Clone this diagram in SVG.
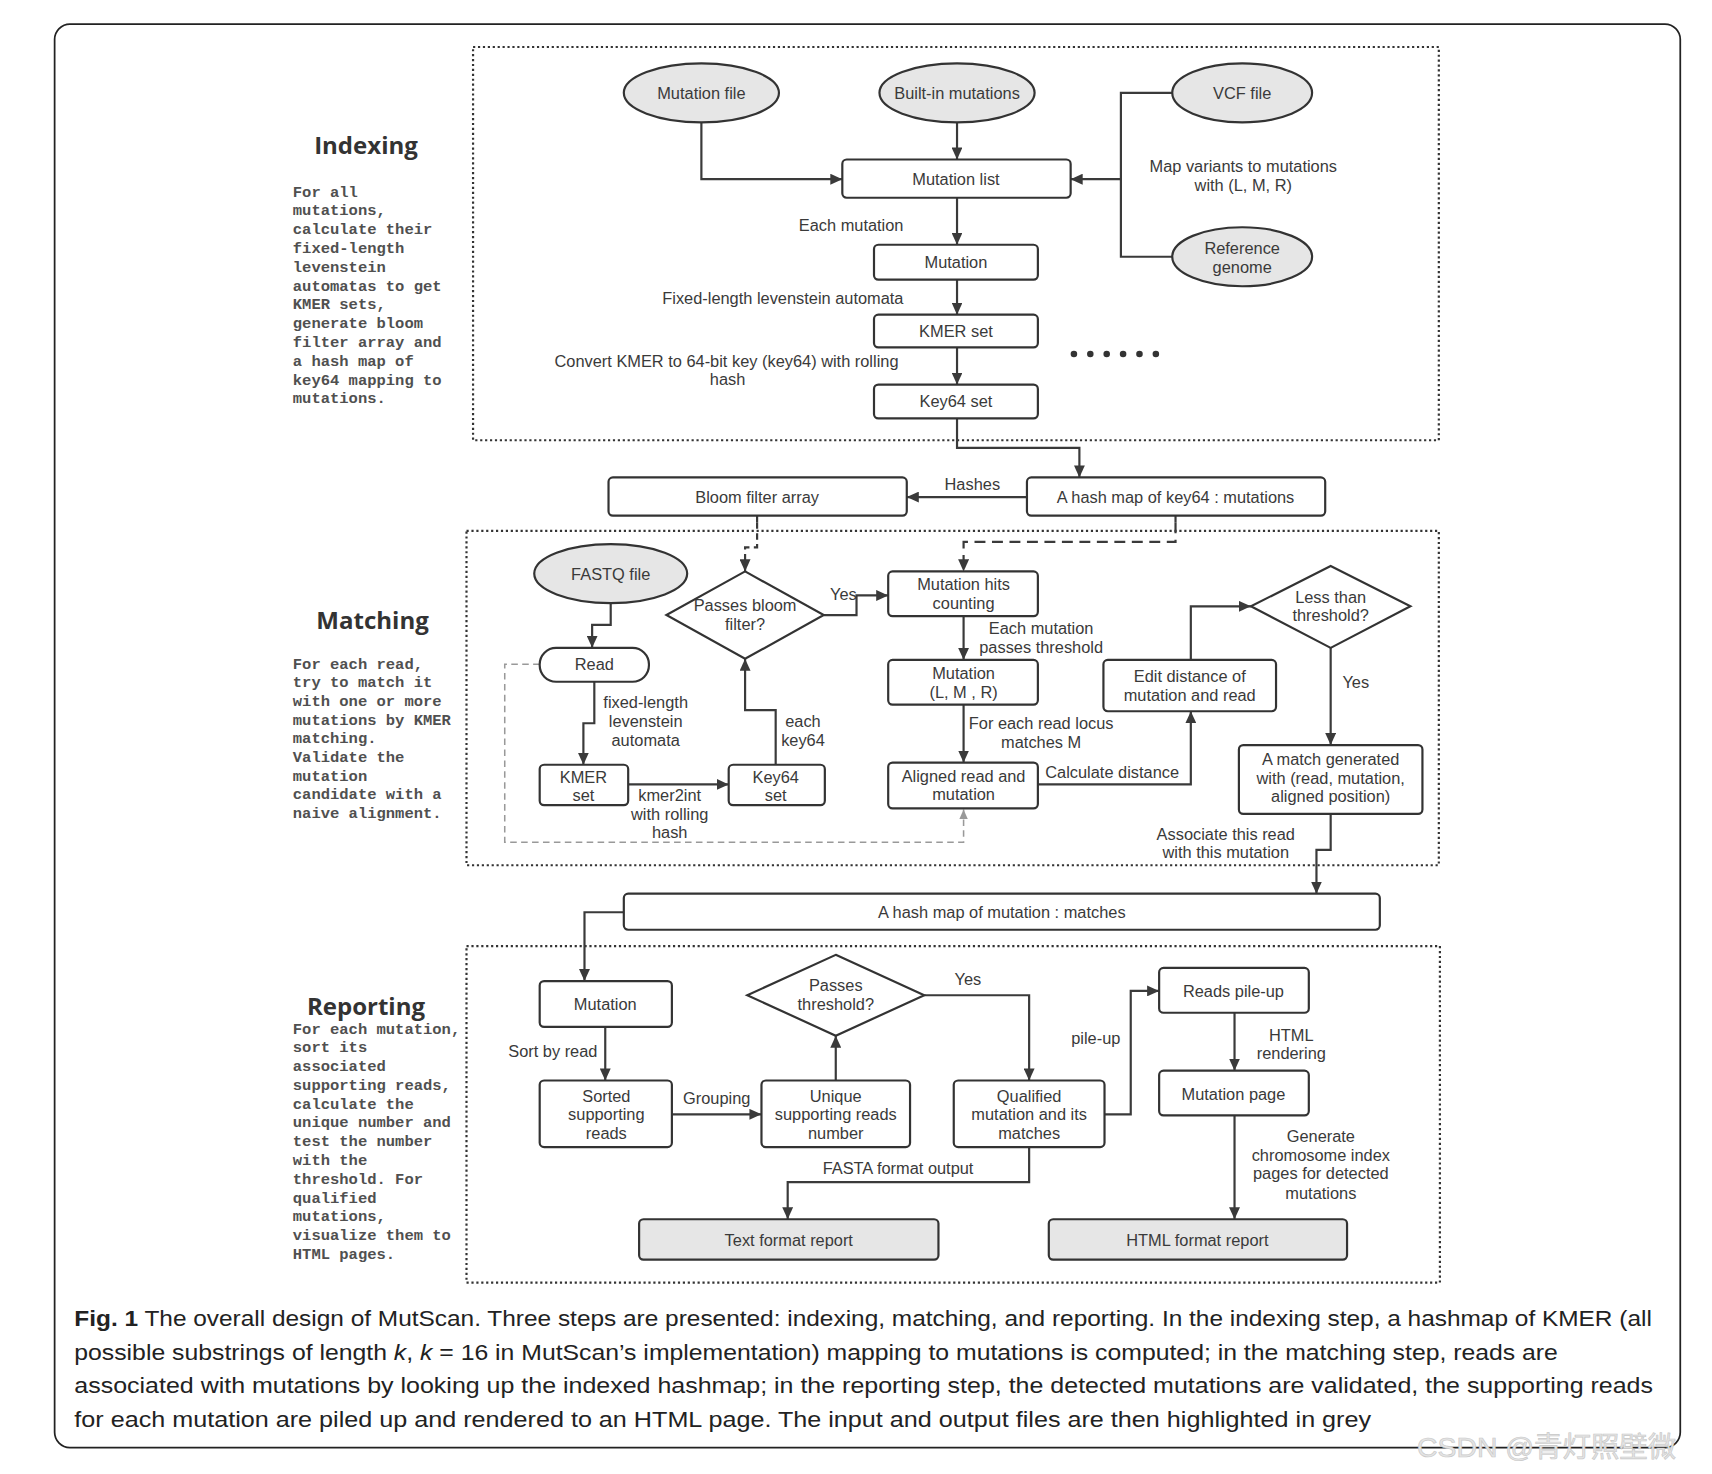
<svg xmlns="http://www.w3.org/2000/svg" width="1712" height="1474" viewBox="0 0 1712 1474">
<defs>
<style>
.t{font-family:"Liberation Sans",Arial,sans-serif;font-size:15px;fill:#3a3a3a;text-anchor:middle;dominant-baseline:central}
.l{font-family:"Liberation Sans",Arial,sans-serif;font-size:15px;fill:#3a3a3a;dominant-baseline:central}
.h{font-family:"Open Sans","Noto Sans",sans-serif;font-size:22px;font-weight:bold;fill:#333;text-anchor:middle;dominant-baseline:central}
.m{font-family:"Liberation Mono","Courier New",monospace;font-size:14.2px;font-weight:bold;fill:#505050}
.box{fill:#fff;stroke:#333;stroke-width:2}
.gbox{fill:#e6e6e6;stroke:#333;stroke-width:2}
.sec{fill:none;stroke:#333;stroke-width:2;stroke-dasharray:2 2.5}
.c{fill:none;stroke:#3a3a3a;stroke-width:2}
.cap{font-family:"Liberation Sans",Arial,sans-serif;font-size:21px;fill:#222}
</style>
<marker id="a" markerUnits="userSpaceOnUse" markerWidth="12" markerHeight="10" refX="11" refY="5" orient="auto">
<path d="M0,0 L11,5 L0,10 z" fill="#3a3a3a"/>
</marker>
<marker id="ag" markerUnits="userSpaceOnUse" markerWidth="10" markerHeight="8" refX="9" refY="4" orient="auto">
<path d="M0,0 L9,4 L0,8 z" fill="#999"/>
</marker>
</defs>
<rect width="1712" height="1474" fill="#fff"/>
<g transform="scale(1.0925)">
<rect x="50" y="22" width="1488" height="1303" rx="14" fill="none" stroke="#222" stroke-width="1.6"/>

<g id="sections">
<rect class="sec" x="433" y="43" width="884" height="360"/>
<rect class="sec" x="427" y="486" width="890" height="306"/>
<rect class="sec" x="427" y="866" width="891" height="308"/>
</g>

<g id="side-labels">
<text class="h" x="335" y="132">Indexing</text>
<text class="m" x="268" y="180">
<tspan x="268">For all</tspan>
<tspan x="268" dy="17.2">mutations,</tspan>
<tspan x="268" dy="17.2">calculate their</tspan>
<tspan x="268" dy="17.2">fixed-length</tspan>
<tspan x="268" dy="17.2">levenstein</tspan>
<tspan x="268" dy="17.2">automatas to get</tspan>
<tspan x="268" dy="17.2">KMER sets,</tspan>
<tspan x="268" dy="17.2">generate bloom</tspan>
<tspan x="268" dy="17.2">filter array and</tspan>
<tspan x="268" dy="17.2">a hash map of</tspan>
<tspan x="268" dy="17.2">key64 mapping to</tspan>
<tspan x="268" dy="17.2">mutations.</tspan>
</text>
<text class="h" x="341" y="567">Matching</text>
<text class="m" x="268" y="612">
<tspan x="268">For each read,</tspan>
<tspan x="268" dy="17.1">try to match it</tspan>
<tspan x="268" dy="17.1">with one or more</tspan>
<tspan x="268" dy="17.1">mutations by KMER</tspan>
<tspan x="268" dy="17.1">matching.</tspan>
<tspan x="268" dy="17.1">Validate the</tspan>
<tspan x="268" dy="17.1">mutation</tspan>
<tspan x="268" dy="17.1">candidate with a</tspan>
<tspan x="268" dy="17.1">naive alignment.</tspan>
</text>
<text class="h" x="335" y="920">Reporting</text>
<text class="m" x="268" y="946">
<tspan x="268">For each mutation,</tspan>
<tspan x="268" dy="17.2">sort its</tspan>
<tspan x="268" dy="17.2">associated</tspan>
<tspan x="268" dy="17.2">supporting reads,</tspan>
<tspan x="268" dy="17.2">calculate the</tspan>
<tspan x="268" dy="17.2">unique number and</tspan>
<tspan x="268" dy="17.2">test the number</tspan>
<tspan x="268" dy="17.2">with the</tspan>
<tspan x="268" dy="17.2">threshold. For</tspan>
<tspan x="268" dy="17.2">qualified</tspan>
<tspan x="268" dy="17.2">mutations,</tspan>
<tspan x="268" dy="17.2">visualize them to</tspan>
<tspan x="268" dy="17.2">HTML pages.</tspan>
</text>
</g>

<g id="connectors">
<path class="c" d="M642,112 V164 H771" marker-end="url(#a)"/>
<path class="c" d="M876,112 V146" marker-end="url(#a)"/>
<path class="c" d="M1073,85 H1026 V235 H1073"/>
<path class="c" d="M1026,164 H980" marker-end="url(#a)"/>
<path class="c" d="M876,181 V224" marker-end="url(#a)"/>
<path class="c" d="M876,256 V288" marker-end="url(#a)"/>
<path class="c" d="M876,318 V352" marker-end="url(#a)"/>
<path class="c" d="M876,383 V410 H988 V437" marker-end="url(#a)"/>
<path class="c" d="M940,455 H830" marker-end="url(#a)"/>
<path class="c" d="M693,472 V478"/>
<path class="c" d="M693,478 V501 H682 V523" stroke-dasharray="6 4" marker-end="url(#a)"/>
<path class="c" d="M1076,472 V478"/>
<path class="c" d="M1076,478 V496 H882 V523" stroke-dasharray="10 6" marker-end="url(#a)"/>
<path class="c" d="M754,563 H784 V545 H813" marker-end="url(#a)"/>
<path class="c" d="M559,552 V572 H542 V593" marker-end="url(#a)"/>
<path class="c" d="M544,624 V662 H534 V700" marker-end="url(#a)"/>
<path class="c" d="M575,718 H667" marker-end="url(#a)"/>
<path class="c" d="M710,700 V650 H682 V603" marker-end="url(#a)"/>
<path fill="none" stroke="#999" stroke-width="1.4" stroke-dasharray="6 4" d="M494,608 H462 V771 H882 V741" marker-end="url(#ag)"/>
<path class="c" d="M882,564 V604" marker-end="url(#a)"/>
<path class="c" d="M882,645 V698" marker-end="url(#a)"/>
<path class="c" d="M950,718 H1090 V651" marker-end="url(#a)"/>
<path class="c" d="M1090,604 V555 H1145" marker-end="url(#a)"/>
<path class="c" d="M1218,593 V682" marker-end="url(#a)"/>
<path class="c" d="M1218,745 V778 H1205 V818" marker-end="url(#a)"/>
<path class="c" d="M571,835 H535 V898" marker-end="url(#a)"/>
<path class="c" d="M554,940 V989" marker-end="url(#a)"/>
<path class="c" d="M615,1020 H697" marker-end="url(#a)"/>
<path class="c" d="M765,989 V948" marker-end="url(#a)"/>
<path class="c" d="M846,911 H942 V989" marker-end="url(#a)"/>
<path class="c" d="M1011,1020 H1035 V907 H1061" marker-end="url(#a)"/>
<path class="c" d="M1130,927 V980" marker-end="url(#a)"/>
<path class="c" d="M1130,1021 V1116" marker-end="url(#a)"/>
<path class="c" d="M942,1050 V1082 H721 V1116" marker-end="url(#a)"/>
</g>

<g id="edge-labels">
<text class="l" x="827" y="206" text-anchor="end">Each mutation</text>
<text class="l" x="827" y="273" text-anchor="end">Fixed-length levenstein automata</text>
<text class="t" x="665" y="330"><tspan x="665">Convert KMER to 64-bit key (key64) with rolling</tspan><tspan x="666" dy="17">hash</tspan></text>
<text class="t" x="1138" y="152"><tspan x="1138">Map variants to mutations</tspan><tspan x="1138" dy="17">with (L, M, R)</tspan></text>
<text class="t" x="890" y="443">Hashes</text>
<text class="t" x="772" y="544">Yes</text>
<text class="t" x="591" y="643"><tspan x="591">fixed-length</tspan><tspan x="591" dy="17">levenstein</tspan><tspan x="591" dy="17">automata</tspan></text>
<text class="t" x="613" y="728"><tspan x="613">kmer2int</tspan><tspan x="613" dy="17">with rolling</tspan><tspan x="613" dy="17">hash</tspan></text>
<text class="t" x="735" y="660"><tspan x="735">each</tspan><tspan x="735" dy="17">key64</tspan></text>
<text class="t" x="953" y="575"><tspan x="953">Each mutation</tspan><tspan x="953" dy="17">passes threshold</tspan></text>
<text class="t" x="953" y="662"><tspan x="953">For each read locus</tspan><tspan x="953" dy="17">matches M</tspan></text>
<text class="t" x="1018" y="707">Calculate distance</text>
<text class="t" x="1241" y="624">Yes</text>
<text class="t" x="1122" y="763"><tspan x="1122">Associate this read</tspan><tspan x="1122" dy="17">with this mutation</tspan></text>
<text class="t" x="506" y="962">Sort by read</text>
<text class="t" x="656" y="1005">Grouping</text>
<text class="t" x="886" y="896">Yes</text>
<text class="t" x="1003" y="950">pile-up</text>
<text class="t" x="1182" y="947"><tspan x="1182">HTML</tspan><tspan x="1182" dy="17">rendering</tspan></text>
<text class="t" x="1209" y="1040"><tspan x="1209">Generate</tspan><tspan x="1209" dy="17">chromosome index</tspan><tspan x="1209" dy="17">pages for detected</tspan><tspan x="1209" dy="18">mutations</tspan></text>
<text class="t" x="822" y="1069">FASTA format output</text>
</g>

<g id="dots" fill="#333">
<circle cx="983" cy="324" r="3"/><circle cx="998" cy="324" r="3"/><circle cx="1013" cy="324" r="3"/>
<circle cx="1028" cy="324" r="3"/><circle cx="1043" cy="324" r="3"/><circle cx="1058" cy="324" r="3"/>
</g>

<g id="mutation-file"><ellipse class="gbox" cx="642" cy="85" rx="71" ry="27"/><text class="t" x="642" y="85">Mutation file</text></g>
<g id="builtin-mutations"><ellipse class="gbox" cx="876" cy="85" rx="71" ry="27"/><text class="t" x="876" y="85">Built-in mutations</text></g>
<g id="vcf-file"><ellipse class="gbox" cx="1137" cy="85" rx="64" ry="27"/><text class="t" x="1137" y="85">VCF file</text></g>
<g id="reference-genome"><ellipse class="gbox" cx="1137" cy="235" rx="64" ry="27"/><text class="t" x="1137" y="227"><tspan x="1137">Reference</tspan><tspan x="1137" dy="17">genome</tspan></text></g>
<g id="mutation-list"><rect class="box" x="771" y="146" width="209" height="35" rx="4"/><text class="t" x="875" y="164">Mutation list</text></g>
<g id="mutation-idx"><rect class="box" x="800" y="224" width="150" height="32" rx="4"/><text class="t" x="875" y="240">Mutation</text></g>
<g id="kmer-set-idx"><rect class="box" x="800" y="288" width="150" height="30" rx="4"/><text class="t" x="875" y="303">KMER set</text></g>
<g id="key64-set-idx"><rect class="box" x="800" y="352" width="150" height="31" rx="4"/><text class="t" x="875" y="367">Key64 set</text></g>

<g id="bloom-filter"><rect class="box" x="557" y="437" width="273" height="35" rx="4"/><text class="t" x="693" y="455">Bloom filter array</text></g>
<g id="hashmap-key64"><rect class="box" x="940" y="437" width="273" height="35" rx="4"/><text class="t" x="1076" y="455">A hash map of key64 : mutations</text></g>

<g id="fastq-file"><ellipse class="gbox" cx="559" cy="525" rx="70" ry="27"/><text class="t" x="559" y="525">FASTQ file</text></g>
<g id="passes-bloom"><polygon class="box" points="682,523 754,563 682,603 610,563"/><text class="t" x="682" y="554"><tspan x="682">Passes bloom</tspan><tspan x="682" dy="17">filter?</tspan></text></g>
<g id="read"><rect class="box" x="494" y="593" width="100" height="31" rx="15"/><text class="t" x="544" y="608">Read</text></g>
<g id="kmer-set"><rect class="box" x="494" y="700" width="81" height="37" rx="4"/><text class="t" x="534" y="711"><tspan x="534">KMER</tspan><tspan x="534" dy="17">set</tspan></text></g>
<g id="key64-set"><rect class="box" x="667" y="700" width="88" height="37" rx="4"/><text class="t" x="710" y="711"><tspan x="710">Key64</tspan><tspan x="710" dy="17">set</tspan></text></g>
<g id="hits-counting"><rect class="box" x="813" y="523" width="137" height="41" rx="4"/><text class="t" x="882" y="535"><tspan x="882">Mutation hits</tspan><tspan x="882" dy="17">counting</tspan></text></g>
<g id="mutation-lmr"><rect class="box" x="813" y="604" width="137" height="41" rx="4"/><text class="t" x="882" y="616"><tspan x="882">Mutation</tspan><tspan x="882" dy="17">(L, M , R)</tspan></text></g>
<g id="aligned-read"><rect class="box" x="813" y="698" width="137" height="42" rx="4"/><text class="t" x="882" y="710"><tspan x="882">Aligned read and</tspan><tspan x="882" dy="17">mutation</tspan></text></g>
<g id="edit-distance"><rect class="box" x="1010" y="604" width="158" height="47" rx="4"/><text class="t" x="1089" y="619"><tspan x="1089">Edit distance of</tspan><tspan x="1089" dy="17">mutation and read</tspan></text></g>
<g id="less-threshold"><polygon class="box" points="1218,518 1291,555 1218,593 1145,555"/><text class="t" x="1218" y="546"><tspan x="1218">Less than</tspan><tspan x="1218" dy="17">threshold?</tspan></text></g>
<g id="match-generated"><rect class="box" x="1134" y="682" width="168" height="63" rx="4"/><text class="t" x="1218" y="695"><tspan x="1218">A match generated</tspan><tspan x="1218" dy="17">with (read, mutation,</tspan><tspan x="1218" dy="17">aligned position)</tspan></text></g>

<g id="hashmap-matches"><rect class="box" x="571" y="818" width="692" height="33" rx="4"/><text class="t" x="917" y="835">A hash map of mutation : matches</text></g>

<g id="mutation-rep"><rect class="box" x="494" y="898" width="121" height="42" rx="4"/><text class="t" x="554" y="919">Mutation</text></g>
<g id="sorted-reads"><rect class="box" x="494" y="989" width="121" height="61" rx="4"/><text class="t" x="555" y="1003"><tspan x="555">Sorted</tspan><tspan x="555" dy="17">supporting</tspan><tspan x="555" dy="17">reads</tspan></text></g>
<g id="unique-reads"><rect class="box" x="697" y="989" width="136" height="61" rx="4"/><text class="t" x="765" y="1003"><tspan x="765">Unique</tspan><tspan x="765" dy="17">supporting reads</tspan><tspan x="765" dy="17">number</tspan></text></g>
<g id="passes-threshold"><polygon class="box" points="765,874 846,911 765,948 684,911"/><text class="t" x="765" y="902"><tspan x="765">Passes</tspan><tspan x="765" dy="17">threshold?</tspan></text></g>
<g id="qualified"><rect class="box" x="873" y="989" width="138" height="61" rx="4"/><text class="t" x="942" y="1003"><tspan x="942">Qualified</tspan><tspan x="942" dy="17">mutation and its</tspan><tspan x="942" dy="17">matches</tspan></text></g>
<g id="reads-pileup"><rect class="box" x="1061" y="886" width="137" height="41" rx="4"/><text class="t" x="1129" y="907">Reads pile-up</text></g>
<g id="mutation-page"><rect class="box" x="1061" y="980" width="137" height="41" rx="4"/><text class="t" x="1129" y="1001">Mutation page</text></g>
<g id="text-report"><rect class="gbox" x="585" y="1116" width="274" height="37" rx="4"/><text class="t" x="722" y="1135">Text format report</text></g>
<g id="html-report"><rect class="gbox" x="960" y="1116" width="273" height="37" rx="4"/><text class="t" x="1096" y="1135">HTML format report</text></g>

<g id="caption">
<text class="cap" x="68" y="1214" textLength="1444" lengthAdjust="spacingAndGlyphs"><tspan font-weight="bold">Fig. 1</tspan> The overall design of MutScan. Three steps are presented: indexing, matching, and reporting. In the indexing step, a hashmap of KMER (all</text>
<text class="cap" x="68" y="1245" textLength="1358" lengthAdjust="spacingAndGlyphs">possible substrings of length <tspan font-style="italic">k</tspan>, <tspan font-style="italic">k</tspan> = 16 in MutScan’s implementation) mapping to mutations is computed; in the matching step, reads are</text>
<text class="cap" x="68" y="1275" textLength="1445" lengthAdjust="spacingAndGlyphs">associated with mutations by looking up the indexed hashmap; in the reporting step, the detected mutations are validated, the supporting reads</text>
<text class="cap" x="68" y="1306" textLength="1187" lengthAdjust="spacingAndGlyphs">for each mutation are piled up and rendered to an HTML page. The input and output files are then highlighted in grey</text>
</g>
<text x="1297" y="1334" font-family="Liberation Sans,Noto Sans CJK SC,sans-serif" font-size="26" fill="#e4e4e4" stroke="#c8c8c8" stroke-width="0.6">CSDN @青灯照壁微</text>
</g>
</svg>
